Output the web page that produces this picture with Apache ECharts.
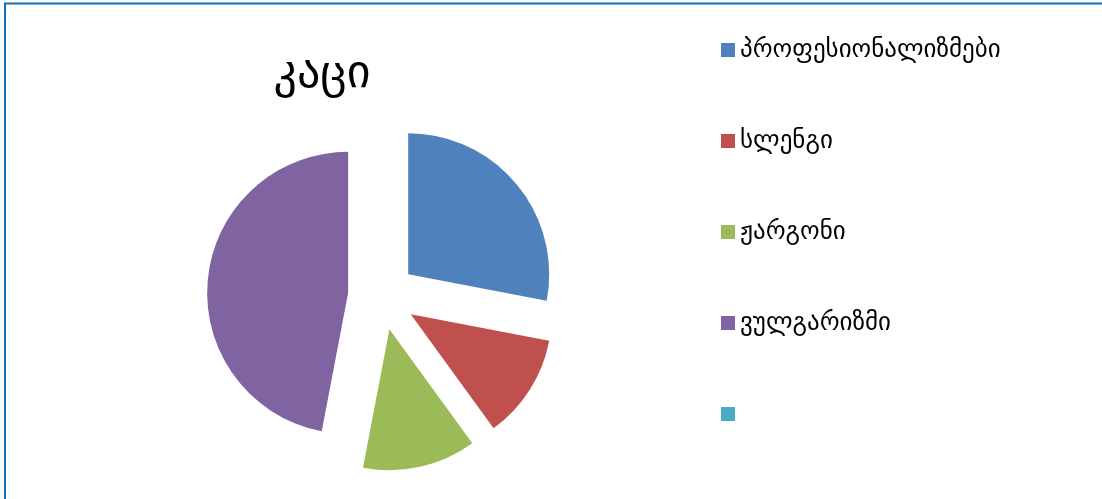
<!DOCTYPE html>
<html>
<head>
<meta charset="utf-8">
<style>
  html, body { margin: 0; padding: 0; background: #ffffff; }
  #chart { width: 1102px; height: 499px; }
</style>
<script src="https://cdn.jsdelivr.net/npm/echarts@6/dist/echarts.min.js"></script>
</head>
<body>
<div id="chart"></div>
<script>
// Chart data
const chartTitle = 'კაცი';
const categories = ['პროფესიონალიზმები', 'სლენგი', 'ჟარგონი', 'ვულგარიზმი', ' '];
const values = [28, 12, 13, 47, 0];
const colors = ['#4F81BD', '#C0504D', '#9BBB59', '#8064A2', '#4BACC6'];

const FONT = "'DejaVu Sans', sans-serif";

const chart = echarts.init(document.getElementById('chart'), null, { renderer: 'canvas' });

chart.setOption({
  animation: false,
  backgroundColor: '#ffffff',
  color: colors,
  title: {
    text: chartTitle,
    left: 322,
    top: 52,
    padding: 0,
    textAlign: 'center',
    textStyle: { fontFamily: FONT, fontSize: 46, fontWeight: 'normal', color: '#000000' }
  },
  legend: {
    orient: 'vertical',
    left: 721,
    top: 36,
    padding: 0,
    itemWidth: 14,
    itemHeight: 14,
    itemGap: 63,
    icon: 'rect',
    selectedMode: false,
    data: categories,
    textStyle: { fontFamily: FONT, fontSize: 25, color: '#000000', lineHeight: 28 }
  },
  graphic: [{
    type: 'rect',
    silent: true,
    shape: { x: 5, y: 3.5, width: 1200, height: 600 },
    style: { fill: 'none', stroke: '#0E70BE', lineWidth: 2 }
  }],
  series: [{
    type: 'pie',
    center: [382, 296],
    radius: 141,
    startAngle: 90,
    clockwise: true,
    selectedMode: 'multiple',
    selectedOffset: 34,
    avoidLabelOverlap: false,
    label: { show: false },
    labelLine: { show: false },
    emphasis: { disabled: true },
    itemStyle: { borderWidth: 0 },
    data: categories.map((name, i) => ({ name: name, value: values[i], selected: true }))
  }]
});
</script>
</body>
</html>
